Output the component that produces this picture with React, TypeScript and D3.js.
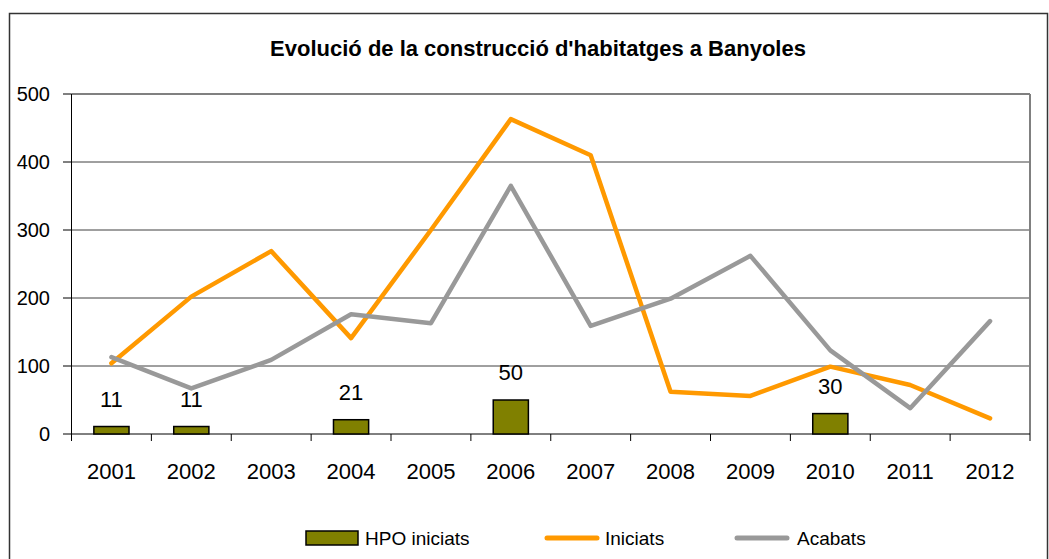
import { scaleBand, scaleLinear, line } from "d3";

const width = 1049;
const height = 559;

// chart values
const years = ["2001", "2002", "2003", "2004", "2005", "2006", "2007", "2008", "2009", "2010", "2011", "2012"];
const hpoIniciats = [11, 11, null, 21, null, 50, null, null, null, 30, null, null];
const iniciats = [104, 202, 269, 141, 300, 463, 410, 62, 56, 99, 72, 23];
const acabats = [113, 67, 109, 176, 163, 365, 159, 199, 262, 123, 38, 166];
const yTicks = [0, 100, 200, 300, 400, 500];

const title = "Evolució de la construcció d'habitatges a Banyoles";
const font = "'Liberation Sans', Arial, sans-serif";

const plot = { left: 71.5, right: 1030, top: 94, bottom: 434 };

const App = () => {
  const xScale = scaleBand<string>()
    .domain(years)
    .range([plot.left, plot.right])
    .padding(0);

  const yScale = scaleLinear().domain([0, 500]).range([plot.bottom, plot.top]);

  const cx = (i: number) => (xScale(years[i]) as number) + xScale.bandwidth() / 2;
  const barW = xScale.bandwidth() * 0.44;

  const lineGen = line<number>()
    .x((_, i) => cx(i))
    .y((d) => yScale(d));

  // category boundaries for the x ticks
  const bounds = years.map((y) => xScale(y) as number).concat([plot.right]);

  return (
    <svg
      width={width}
      height={height}
      style={{ position: "absolute", left: 0, top: 0, background: "#fff" }}
      fontFamily={font}
    >
      {/* chart border */}
      <rect x={9.5} y={13.5} width={1038} height={570} fill="#fff" stroke="#333" strokeWidth={1.5} />

      <text x={538} y={56} textAnchor="middle" fontSize={22} fontWeight="bold" fill="#000">
        {title}
      </text>

      {/* gridlines */}
      {yTicks
        .filter((t) => t > 0 && t < 500)
        .map((t) => (
          <line key={t} x1={plot.left} x2={plot.right} y1={yScale(t)} y2={yScale(t)} stroke="#404040" strokeWidth={1} />
        ))}
      {/* plot area border (top and right) */}
      <line x1={plot.left} x2={plot.right} y1={yScale(500)} y2={yScale(500)} stroke="#808080" strokeWidth={2} />
      <line x1={plot.right} x2={plot.right} y1={plot.top} y2={plot.bottom} stroke="#808080" strokeWidth={2} />

      {/* y axis */}
      <line x1={plot.left} x2={plot.left} y1={plot.top} y2={plot.bottom} stroke="#000" strokeWidth={1} />
      {yTicks.map((t) => (
        <g key={t} transform={`translate(0,${yScale(t)})`}>
          <line x1={63} x2={plot.left} stroke="#000" strokeWidth={1} />
          <text x={50} dy="0.35em" textAnchor="end" fontSize={20} fill="#000">
            {t}
          </text>
        </g>
      ))}

      {/* x axis */}
      <line x1={plot.left} x2={plot.right} y1={plot.bottom} y2={plot.bottom} stroke="#000" strokeWidth={1} />
      {bounds.map((b, i) => (
        <line key={i} x1={b} x2={b} y1={plot.bottom} y2={plot.bottom + 7} stroke="#000" strokeWidth={1} />
      ))}
      {years.map((y, i) => (
        <text key={y} x={cx(i)} y={479} textAnchor="middle" fontSize={22} fill="#000">
          {y}
        </text>
      ))}

      {/* HPO bars */}
      {hpoIniciats.map((v, i) =>
        v == null ? null : (
          <g key={i}>
            <rect
              x={cx(i) - barW / 2}
              y={yScale(v)}
              width={barW}
              height={yScale(0) - yScale(v)}
              fill="#808000"
              stroke="#000"
              strokeWidth={1.5}
            />
            <text x={cx(i)} y={yScale(v) - 20} textAnchor="middle" fontSize={22} fill="#000">
              {v}
            </text>
          </g>
        )
      )}

      {/* lines */}
      <path d={lineGen(iniciats) ?? ""} fill="none" stroke="#FF9900" strokeWidth={4.5} strokeLinejoin="round" strokeLinecap="round" />
      <path d={lineGen(acabats) ?? ""} fill="none" stroke="#999999" strokeWidth={4.5} strokeLinejoin="round" strokeLinecap="round" />

      {/* legend */}
      <rect x={306} y={531} width={52} height={14} fill="#808000" stroke="#000" strokeWidth={1.5} />
      <text x={365} y={545} fontSize={19} fill="#000">HPO iniciats</text>
      <line x1={547} x2={597} y1={538} y2={538} stroke="#FF9900" strokeWidth={5} strokeLinecap="round" />
      <text x={605} y={545} fontSize={19} fill="#000">Iniciats</text>
      <line x1={737} x2={787} y1={538} y2={538} stroke="#999999" strokeWidth={5} strokeLinecap="round" />
      <text x={797} y={545} fontSize={19} fill="#000">Acabats</text>
    </svg>
  );
};

export default App;
